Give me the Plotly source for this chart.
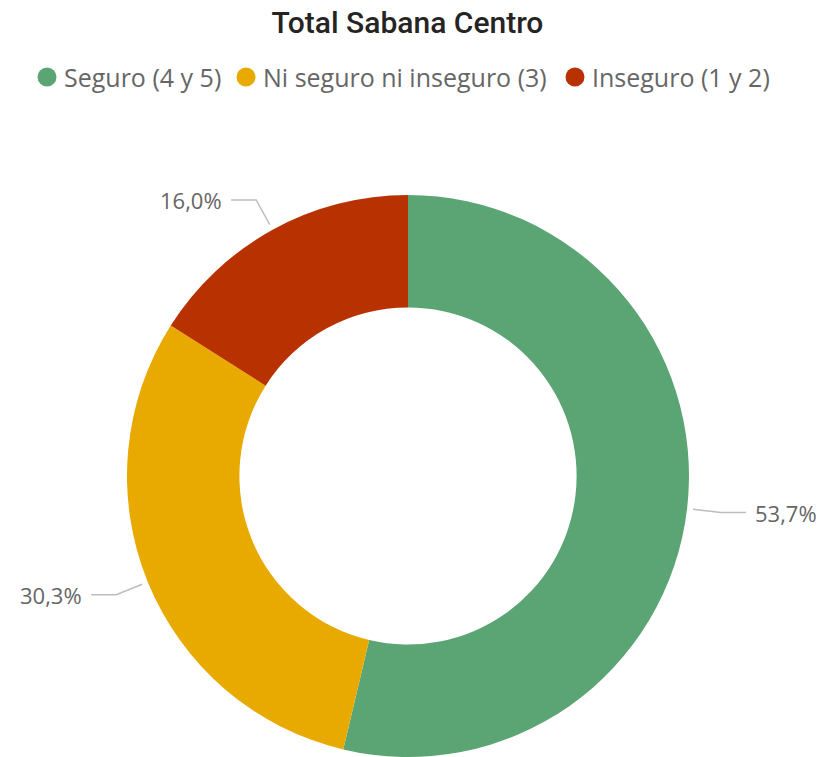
import math
import plotly.graph_objects as go

# Survey results: perceived safety, Sabana Centro total
categories = ["Seguro (4 y 5)", "Ni seguro ni inseguro (3)", "Inseguro (1 y 2)"]
values = [53.7, 30.3, 16.0]
value_labels = ["53,7%", "30,3%", "16,0%"]
colors = ["#5BA574", "#E8A900", "#B83100"]

W, H = 822, 757
CX, CY, R = 408, 476, 281          # donut centre and outer radius (px)
HOLE = 0.6

label_font = dict(family="Open Sans", size=22, color="#666666")
legend_font = dict(family="Open Sans", size=25, color="#666666")
line_color = "#BDBDBD"

# Legend layout: marker centre x for each entry, shared row y, marker radius
legend_x = [47, 246, 575]
legend_y = 77
legend_r = 9.5

fig = go.Figure()

fig.add_trace(go.Pie(
    labels=categories,
    values=values,
    hole=HOLE,
    sort=False,
    direction="clockwise",
    rotation=0,
    textinfo="none",
    marker=dict(colors=colors, line=dict(width=0)),
    domain=dict(x=[(CX - R) / W, (CX + R) / W],
                y=[(H - CY - R) / H, (H - CY + R) / H]),
    showlegend=False,
    hoverinfo="label+percent",
))

shapes = []
annotations = []

# Legend row: round markers followed by category names
for name, col, lx in zip(categories, colors, legend_x):
    shapes.append(dict(
        type="circle", xref="x", yref="y",
        x0=lx - legend_r, x1=lx + legend_r,
        y0=legend_y - legend_r, y1=legend_y + legend_r,
        fillcolor=col, line=dict(width=0),
    ))
    annotations.append(dict(
        x=lx + legend_r + 5, y=legend_y, xref="x", yref="y",
        text=name, showarrow=False, xanchor="left", yanchor="middle",
        font=legend_font,
    ))

# Outside value labels with elbow leader lines, placed at each slice's mid-angle
total = sum(values)
cum = 0.0
for v, txt in zip(values, value_labels):
    theta = 2 * math.pi * (cum + v / 2) / total
    cum += v
    s, c = math.sin(theta), math.cos(theta)
    x1, y1 = CX + (R + 6) * s, CY - (R + 6) * c
    x2, y2 = CX + (R + 34) * s, CY - (R + 34) * c
    side = 1 if s >= 0 else -1
    x3 = x2 + side * 25
    shapes.append(dict(
        type="path", xref="x", yref="y",
        path=f"M {x1:.1f} {y1:.1f} L {x2:.1f} {y2:.1f} L {x3:.1f} {y2:.1f}",
        line=dict(color=line_color, width=1.5),
    ))
    annotations.append(dict(
        x=x3 + side * 7, y=y2, xref="x", yref="y",
        text=txt, showarrow=False,
        xanchor="left" if side > 0 else "right", yanchor="middle",
        font=label_font,
    ))

fig.update_layout(
    width=W, height=H,
    margin=dict(l=0, r=0, t=0, b=0),
    paper_bgcolor="white", plot_bgcolor="rgba(0,0,0,0)",
    showlegend=False,
    title=dict(text="Total Sabana Centro", x=407.5 / W, xanchor="center",
               y=1 - 22 / H, yanchor="middle",
               font=dict(family="Roboto", size=30, color="#252423", weight=500)),
    xaxis=dict(range=[0, W], domain=[0, 1], visible=False, fixedrange=True),
    yaxis=dict(range=[H, 0], domain=[0, 1], visible=False, fixedrange=True),
    shapes=shapes,
    annotations=annotations,
)

fig.write_html("out.html")
